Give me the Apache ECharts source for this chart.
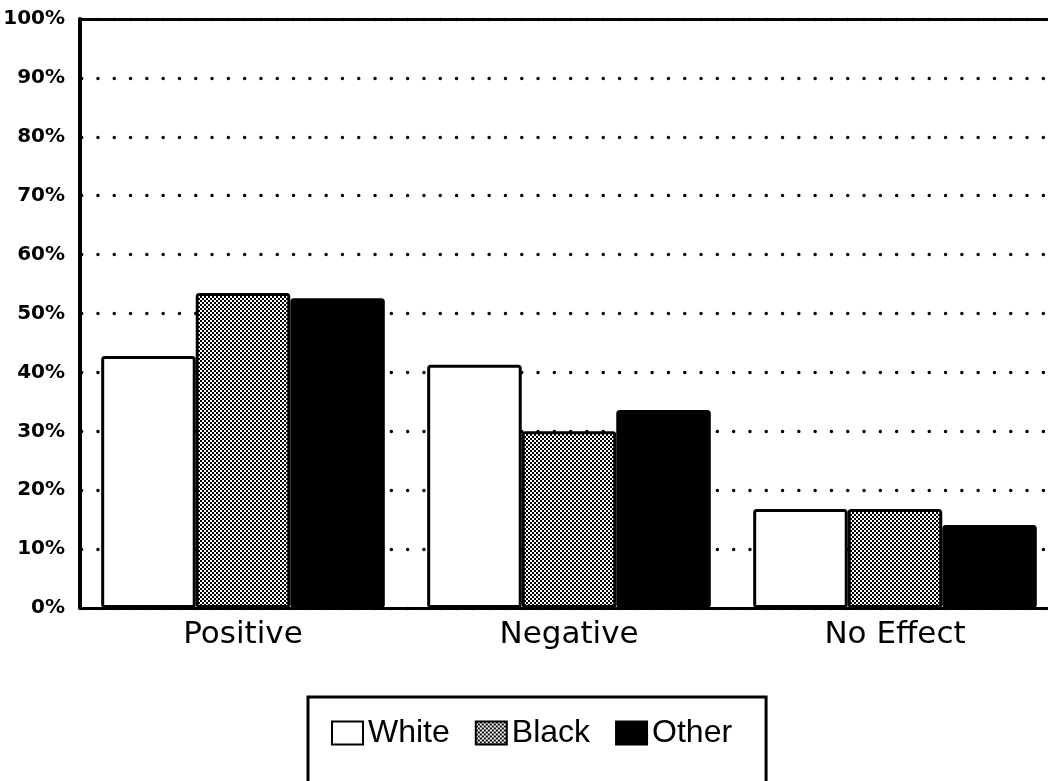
<!DOCTYPE html>
<html>
<head>
<meta charset="utf-8">
<script src="https://cdn.jsdelivr.net/npm/echarts@6/dist/echarts.min.js"></script>
<style>
  html, body { margin: 0; padding: 0; background: #fff; overflow: hidden; }
  #chart { width: 1060px; height: 781px; }
</style>
</head>
<body>
<div id="chart"></div>
<script>
const categories = ['Positive', 'Negative', 'No Effect'];
const seriesNames = ['White', 'Black', 'Other'];
const whiteValues = [42.8, 41.3, 16.8];
const blackValues = [53.5, 30.0, 16.8];
const otherValues = [52.6, 33.6, 14.1];

// halftone-ish fill for the "Black" bars
function makeDots() {
  const c = document.createElement('canvas');
  c.width = 4;
  c.height = 4;
  const ctx = c.getContext('2d');
  ctx.fillStyle = '#fff';
  ctx.fillRect(0, 0, 4, 4);
  ctx.fillStyle = '#000';
  ctx.fillRect(0, 0, 2, 2);
  ctx.fillRect(2, 2, 2, 2);
  return c;
}

const fills = ['#ffffff', { image: makeDots(), repeat: 'repeat' }, '#000000'];
const values = [whiteValues, blackValues, otherValues];

const chart = echarts.init(document.getElementById('chart'));

chart.setOption({
  animation: false,
  backgroundColor: '#fff',
  grid: { left: 80, right: 2, top: 19, bottom: 173 },
  legend: {
    data: seriesNames,
    left: 308,
    top: 697,
    orient: 'horizontal',
    icon: 'rect',
    itemWidth: 31,
    itemHeight: 23,
    itemGap: 25,
    padding: [20, 34, 60, 23],
    borderColor: '#000',
    borderWidth: 3,
    textStyle: { fontFamily: 'Liberation Sans', fontSize: 32, color: '#000' }
  },
  xAxis: [
    {
      type: 'category',
      data: categories,
      axisLine: { lineStyle: { color: '#000', width: 3 } },
      axisTick: { show: false },
      axisLabel: { fontFamily: 'DejaVu Sans', fontSize: 31, color: '#000', margin: 11 }
    },
    {
      type: 'category',
      data: categories,
      position: 'top',
      axisLine: { lineStyle: { color: '#000', width: 3 } },
      axisTick: { show: false },
      axisLabel: { show: false }
    }
  ],
  yAxis: {
    type: 'value',
    min: 0,
    max: 100,
    interval: 10,
    axisLine: { show: true, lineStyle: { color: '#000', width: 4 } },
    axisTick: { show: false },
    axisLabel: {
      formatter: '{value}%',
      fontFamily: 'DejaVu Sans',
      fontWeight: 'bold',
      fontSize: 20,
      color: '#000',
      margin: 15
    },
    splitLine: {
      show: true,
      lineStyle: { color: '#000', width: 3.4, type: [0.1, 16.2], cap: 'round', dashOffset: 14.7 }
    }
  },
  series: seriesNames.map((name, i) => ({
    name: name,
    type: 'bar',
    data: values[i],
    barGap: '0%',
    barCategoryGap: '13%',
    itemStyle: { color: fills[i], borderColor: '#000', borderWidth: 3, borderRadius: 2 }
  }))
});
</script>
</body>
</html>
